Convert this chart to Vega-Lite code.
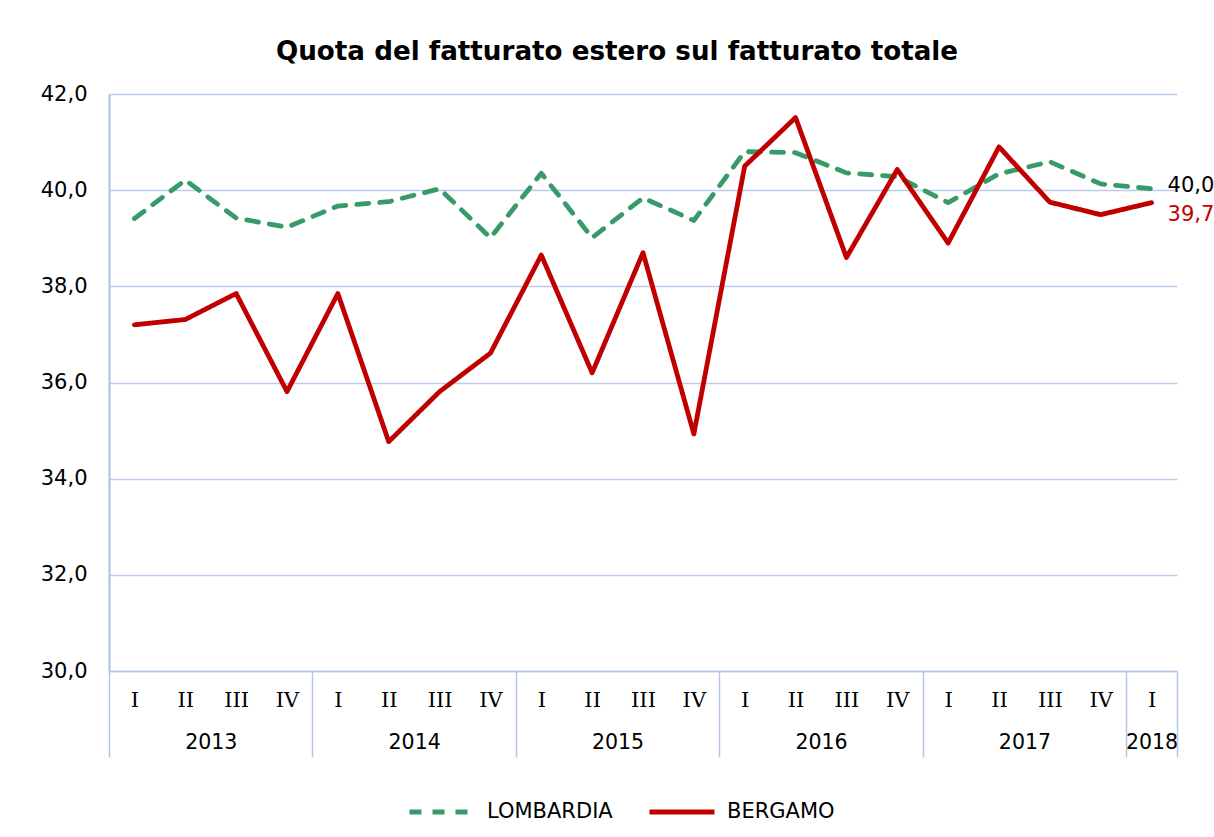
{
  "$schema": "https://vega.github.io/schema/vega-lite/v6.json",
  "width": 1068,
  "height": 577,
  "autosize": {"type": "none"},
  "padding": {"left": 109, "top": 94, "right": 37, "bottom": 166},
  "background": "white",
  "title": {
    "text": "Quota del fatturato estero sul fatturato totale",
    "font": "DejaVu Sans",
    "fontSize": 26.2,
    "fontWeight": "bold",
    "color": "#000000",
    "anchor": "middle",
    "dx": -26,
    "offset": 18
  },
  "config": {
    "locale": {"number": {"decimal": ",", "thousands": ".", "grouping": [3], "currency": ["", " €"]}},
    "view": {"stroke": null},
    "font": "DejaVu Sans",
    "axis": {"labelFont": "DejaVu Sans", "labelFontSize": 21, "labelColor": "#000000"}
  },
  "data": {
    "values": [
      {"period": "2013 I", "series": "LOMBARDIA", "value": 39.41},
      {"period": "2013 II", "series": "LOMBARDIA", "value": 40.21},
      {"period": "2013 III", "series": "LOMBARDIA", "value": 39.42},
      {"period": "2013 IV", "series": "LOMBARDIA", "value": 39.23},
      {"period": "2014 I", "series": "LOMBARDIA", "value": 39.67},
      {"period": "2014 II", "series": "LOMBARDIA", "value": 39.76},
      {"period": "2014 III", "series": "LOMBARDIA", "value": 40.03},
      {"period": "2014 IV", "series": "LOMBARDIA", "value": 39.01},
      {"period": "2015 I", "series": "LOMBARDIA", "value": 40.35},
      {"period": "2015 II", "series": "LOMBARDIA", "value": 39.01},
      {"period": "2015 III", "series": "LOMBARDIA", "value": 39.84},
      {"period": "2015 IV", "series": "LOMBARDIA", "value": 39.37},
      {"period": "2016 I", "series": "LOMBARDIA", "value": 40.8},
      {"period": "2016 II", "series": "LOMBARDIA", "value": 40.78},
      {"period": "2016 III", "series": "LOMBARDIA", "value": 40.36},
      {"period": "2016 IV", "series": "LOMBARDIA", "value": 40.28},
      {"period": "2017 I", "series": "LOMBARDIA", "value": 39.74},
      {"period": "2017 II", "series": "LOMBARDIA", "value": 40.34},
      {"period": "2017 III", "series": "LOMBARDIA", "value": 40.59},
      {"period": "2017 IV", "series": "LOMBARDIA", "value": 40.13},
      {"period": "2018 I", "series": "LOMBARDIA", "value": 40.03},
      {"period": "2013 I", "series": "BERGAMO", "value": 37.2},
      {"period": "2013 II", "series": "BERGAMO", "value": 37.31},
      {"period": "2013 III", "series": "BERGAMO", "value": 37.85},
      {"period": "2013 IV", "series": "BERGAMO", "value": 35.81},
      {"period": "2014 I", "series": "BERGAMO", "value": 37.85},
      {"period": "2014 II", "series": "BERGAMO", "value": 34.77},
      {"period": "2014 III", "series": "BERGAMO", "value": 35.81},
      {"period": "2014 IV", "series": "BERGAMO", "value": 36.61},
      {"period": "2015 I", "series": "BERGAMO", "value": 38.65},
      {"period": "2015 II", "series": "BERGAMO", "value": 36.2},
      {"period": "2015 III", "series": "BERGAMO", "value": 38.7},
      {"period": "2015 IV", "series": "BERGAMO", "value": 34.93},
      {"period": "2016 I", "series": "BERGAMO", "value": 40.5},
      {"period": "2016 II", "series": "BERGAMO", "value": 41.51},
      {"period": "2016 III", "series": "BERGAMO", "value": 38.6},
      {"period": "2016 IV", "series": "BERGAMO", "value": 40.43},
      {"period": "2017 I", "series": "BERGAMO", "value": 38.9},
      {"period": "2017 II", "series": "BERGAMO", "value": 40.9},
      {"period": "2017 III", "series": "BERGAMO", "value": 39.75},
      {"period": "2017 IV", "series": "BERGAMO", "value": 39.49},
      {"period": "2018 I", "series": "BERGAMO", "value": 39.74}
    ]
  },
  "layer": [
    {
      "layer": [
        {
          "mark": {"type": "line", "strokeWidth": 4.8, "strokeCap": "round", "strokeJoin": "round"},
          "encoding": {
            "x": {
              "field": "period", "type": "ordinal", "sort": null,
              "scale": {"type": "point", "padding": 0.5},
              "axis": {
                "title": null, "orient": "bottom", "domain": true, "domainColor": "#b4c6e7", "domainWidth": 1.5,
                "ticks": false, "tickSize": 0, "labelAngle": 0, "labelFont": "DejaVu Serif", "labelFontSize": 21,
                "labelBaseline": "middle", "labelPadding": 29, "labelExpr": "split(datum.value, ' ')[1]",
                "labelOverlap": false, "grid": false
              }
            },
            "y": {
              "field": "value", "type": "quantitative",
              "scale": {"domain": [30, 42], "nice": false, "zero": false},
              "axis": {
                "title": null, "values": [30, 32, 34, 36, 38, 40, 42], "format": ".1f",
                "grid": true, "gridColor": "#bccbea", "gridWidth": 1.5,
                "domainColor": "#a9bfe6", "domainWidth": 2, "ticks": false, "tickSize": 0, "labelPadding": 22
              }
            },
            "color": {
              "field": "series", "type": "nominal",
              "scale": {"domain": ["LOMBARDIA", "BERGAMO"], "range": ["#379b69", "#c00000"]},
              "legend": {
                "title": null, "orient": "none", "legendX": 298, "legendY": 683, "direction": "horizontal",
                "symbolType": "stroke", "symbolSize": 4225, "symbolStrokeWidth": 4.8,
                "labelFont": "DejaVu Sans", "labelFontSize": 21, "labelColor": "#000000",
                "labelOffset": 10, "columnPadding": 26
              }
            },
            "strokeDash": {
              "field": "series", "type": "nominal",
              "scale": {"domain": ["LOMBARDIA", "BERGAMO"], "range": [[12, 11], [1, 0]]},
              "legend": {
                "title": null, "orient": "none", "legendX": 298, "legendY": 683, "direction": "horizontal",
                "symbolType": "stroke", "symbolSize": 4225, "symbolStrokeWidth": 4.8,
                "labelFont": "DejaVu Sans", "labelFontSize": 21, "labelColor": "#000000",
                "labelOffset": 10, "columnPadding": 26
              }
            }
          }
        },
        {
          "transform": [{"filter": "datum.period === '2018 I' && datum.series === 'LOMBARDIA'"}],
          "mark": {"type": "text", "align": "left", "baseline": "middle", "dx": 16, "dy": -3, "font": "DejaVu Sans", "fontSize": 21, "color": "#000000"},
          "encoding": {
            "x": {"field": "period", "type": "ordinal", "sort": null},
            "y": {"field": "value", "type": "quantitative"},
            "text": {"field": "value", "type": "quantitative", "format": ".1f"}
          }
        },
        {
          "transform": [{"filter": "datum.period === '2018 I' && datum.series === 'BERGAMO'"}],
          "mark": {"type": "text", "align": "left", "baseline": "middle", "dx": 16, "dy": 12, "font": "DejaVu Sans", "fontSize": 21, "color": "#c00000"},
          "encoding": {
            "x": {"field": "period", "type": "ordinal", "sort": null},
            "y": {"field": "value", "type": "quantitative"},
            "text": {"field": "value", "type": "quantitative", "format": ".1f"}
          }
        }
      ]
    },
    {
      "mark": {"type": "point", "opacity": 0},
      "encoding": {
        "x": {
          "datum": 0, "type": "quantitative",
          "scale": {"domain": [0, 21], "nice": false, "zero": false},
          "axis": {
            "title": null, "orient": "bottom", "values": [0, 4, 8, 12, 16, 20, 21],
            "labels": false, "domain": false, "grid": false, "ticks": true,
            "tickSize": 86, "tickColor": "#b4c6e7", "tickWidth": 1.5
          }
        }
      }
    },
    {
      "mark": {"type": "point", "opacity": 0},
      "encoding": {
        "x": {
          "datum": 0, "type": "quantitative",
          "scale": {"domain": [0, 21], "nice": false, "zero": false},
          "axis": {
            "title": null, "orient": "bottom", "values": [2, 6, 10, 14, 18, 20.5],
            "labelExpr": "'' + (2013 + floor(datum.value / 4))",
            "labelFlush": false, "labelOverlap": false, "labelBaseline": "middle", "labelPadding": 71,
            "labelFontSize": 20.5, "domain": false, "grid": false, "ticks": false, "tickSize": 0
          }
        }
      }
    }
  ],
  "resolve": {"scale": {"x": "independent"}, "axis": {"x": "independent"}}
}
